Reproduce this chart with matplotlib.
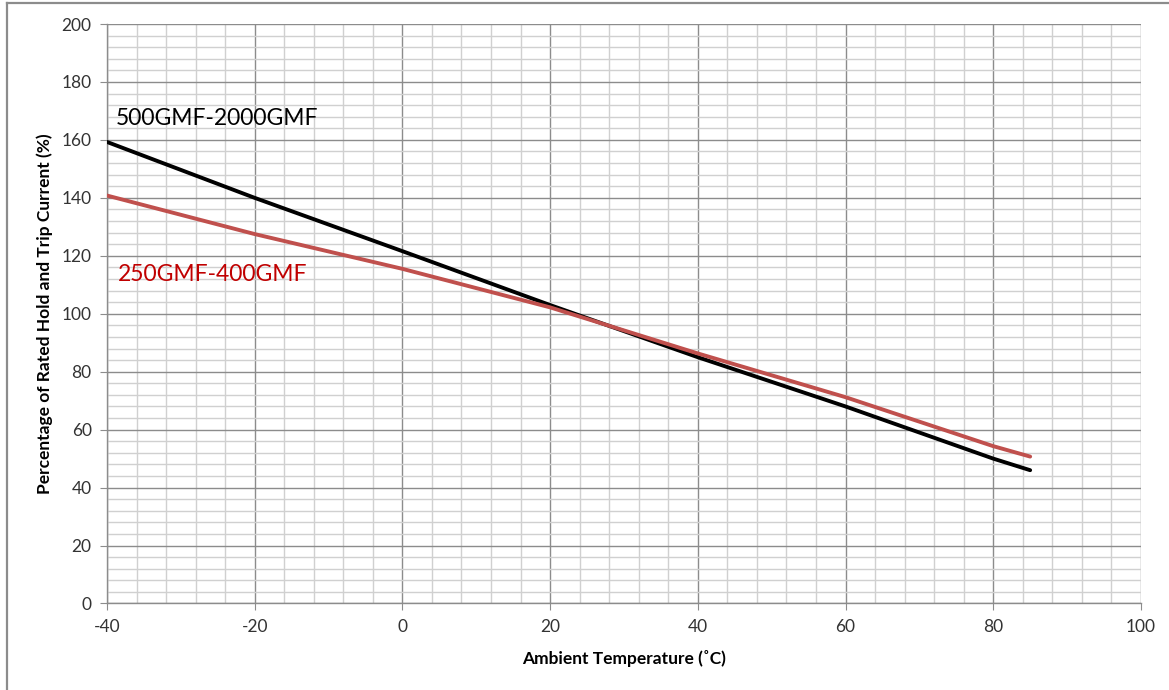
import matplotlib
matplotlib.use("Agg")
import matplotlib.pyplot as plt
from matplotlib.lines import Line2D
from matplotlib.ticker import MultipleLocator

# Data
temp = [-40, -20, 0, 20, 40, 60, 80, 85]
big_gmf = [159.3, 140.0, 121.6, 103.0, 85.0, 68.0, 50.0, 46.0]
small_gmf = [140.8, 127.5, 115.5, 102.2, 86.3, 71.2, 54.3, 50.7]

labels = ["500GMF-2000GMF", "250GMF-400GMF"]

plt.rcParams['font.family'] = ['Lato', 'DejaVu Sans']
plt.rcParams['axes.unicode_minus'] = False

fig = plt.figure(figsize=(11.69, 6.90), dpi=100)
ax = fig.add_axes([0.0915, 0.1254, 0.8845, 0.8398])

# Plot the two curves
ax.plot(temp, big_gmf, color="black", linewidth=2.8, solid_capstyle="round", zorder=3)
ax.plot(temp, small_gmf, color="#C0504D", linewidth=2.8, solid_capstyle="round", zorder=3)

# Axis ranges and ticks
ax.set_xlim(-40, 100)
ax.set_ylim(0, 200)
ax.xaxis.set_major_locator(MultipleLocator(20))
ax.xaxis.set_minor_locator(MultipleLocator(4))
ax.yaxis.set_major_locator(MultipleLocator(20))
ax.yaxis.set_minor_locator(MultipleLocator(4))

# Grid
ax.grid(which="major", color="#8c8c8c", linewidth=1.0, zorder=1)
ax.grid(which="minor", color="#d0d0d0", linewidth=1.0, zorder=1)
ax.set_axisbelow(True)

for side in ["top", "right"]:
    ax.spines[side].set_visible(False)
for side in ["left", "bottom"]:
    ax.spines[side].set_color("#8c8c8c")
    ax.spines[side].set_linewidth(1.0)

ax.tick_params(which="major", direction="out", length=5, color="#8c8c8c",
               labelsize=12.5, labelcolor="#333333", pad=6)
ax.tick_params(which="minor", length=0)

ax.set_xlabel("Ambient Temperature (˚C)", fontsize=12.5, fontweight="bold", labelpad=11)
ax.set_ylabel("Percentage of Rated Hold and Trip Current (%)", fontsize=12.5,
              fontweight="bold", labelpad=6)

# Curve labels
ax.text(-38.8, 167.5, labels[0], fontsize=16.5, color="black", va="center", ha="left")
ax.text(-38.5, 113.5, labels[1], fontsize=16.5, color="#C00000", va="center", ha="left")

# Outer chart frame (left and top visible)
W, H = 1169, 690
fig.add_artist(Line2D([7 / W, 7 / W], [0, 1 - 3 / H], color="#8c8c8c", linewidth=1.6,
                      transform=fig.transFigure))
fig.add_artist(Line2D([7 / W, 1], [1 - 3 / H, 1 - 3 / H], color="#8c8c8c", linewidth=1.6,
                      transform=fig.transFigure))

fig.savefig("out.png", dpi=100)
